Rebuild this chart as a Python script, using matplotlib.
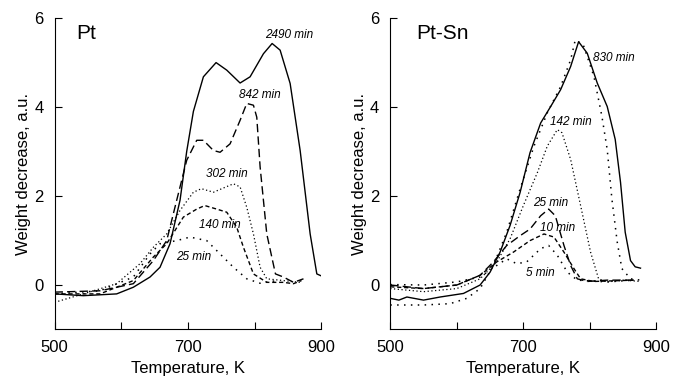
import numpy as np
import matplotlib
matplotlib.use("Agg")
import matplotlib.pyplot as plt

plt.rcParams['font.family'] = ['Liberation Sans', 'DejaVu Sans']

# ---- Pt panel (temperature K, weight decrease a.u.) ----
pt_2490_T = [500, 543, 593, 618, 643, 658, 673, 688, 698, 708, 723, 742, 758, 778, 793, 813, 826, 838, 853, 868, 883, 893, 899]
pt_2490_w = [-0.21, -0.25, -0.21, -0.06, 0.17, 0.39, 0.92, 1.9, 3.0, 3.9, 4.68, 5.0, 4.83, 4.54, 4.68, 5.2, 5.43, 5.28, 4.53, 3.02, 1.14, 0.24, 0.2]
pt_842_T = [500, 568, 618, 648, 668, 683, 698, 713, 723, 738, 748, 763, 778, 788, 798, 803, 808, 818, 831, 843, 858, 873]
pt_842_w = [-0.17, -0.14, 0.02, 0.54, 0.99, 1.9, 2.8, 3.25, 3.25, 3.02, 2.98, 3.17, 3.7, 4.08, 4.04, 3.77, 2.65, 1.14, 0.24, 0.17, 0.05, 0.13]
pt_302_T = [500, 543, 593, 628, 648, 668, 688, 708, 720, 738, 768, 778, 788, 798, 808, 818, 843, 868]
pt_302_w = [-0.4, -0.21, 0.02, 0.47, 0.84, 1.14, 1.67, 2.08, 2.16, 2.08, 2.27, 2.2, 1.74, 1.14, 0.39, 0.13, 0.09, 0.05]
pt_140_T = [500, 568, 618, 648, 668, 693, 713, 725, 743, 758, 773, 783, 798, 818, 843, 858, 870]
pt_140_w = [-0.21, -0.21, 0.09, 0.62, 0.92, 1.52, 1.7, 1.78, 1.7, 1.63, 1.29, 0.84, 0.24, 0.05, 0.05, 0.02, 0.09]
pt_25_T = [500, 568, 618, 643, 658, 683, 703, 728, 748, 768, 788, 808, 833]
pt_25_w = [-0.21, -0.14, 0.17, 0.69, 0.92, 0.99, 1.07, 0.99, 0.69, 0.39, 0.13, 0.03, 0.09]

# ---- Pt-Sn panel ----
sn_830_T = [500, 513, 525, 550, 575, 610, 635, 650, 665, 680, 695, 710, 726, 741, 756, 771, 783, 796, 811, 826, 838, 846, 853, 861, 868, 876]
sn_830_w = [-0.31, -0.35, -0.28, -0.35, -0.28, -0.2, -0.01, 0.28, 0.73, 1.33, 2.07, 2.97, 3.64, 4.01, 4.39, 4.91, 5.47, 5.21, 4.54, 4.01, 3.27, 2.3, 1.18, 0.54, 0.4, 0.37]
sn_dot_T = [500, 550, 590, 615, 635, 655, 675, 695, 716, 736, 756, 771, 778, 790, 806, 818, 826, 833, 841, 848, 861, 876]
sn_dot_w = [-0.46, -0.46, -0.43, -0.31, -0.09, 0.43, 1.18, 2.15, 3.12, 3.87, 4.46, 5.06, 5.51, 5.4, 4.69, 3.79, 3.04, 1.93, 0.96, 0.36, 0.13, 0.1]
sn_142_T = [500, 550, 600, 635, 660, 680, 700, 721, 736, 751, 758, 771, 786, 801, 813, 826, 851, 876]
sn_142_w = [-0.09, -0.16, -0.09, 0.13, 0.51, 1.03, 1.78, 2.52, 3.12, 3.49, 3.42, 2.82, 1.78, 0.73, 0.13, 0.06, 0.1, 0.07]
sn_25_T = [500, 550, 600, 635, 655, 675, 695, 710, 726, 738, 748, 761, 771, 781, 796, 826, 866]
sn_25_w = [-0.01, -0.09, -0.01, 0.21, 0.51, 0.88, 1.1, 1.25, 1.55, 1.7, 1.55, 0.88, 0.43, 0.13, 0.07, 0.1, 0.1]
sn_10_T = [500, 550, 600, 635, 660, 685, 710, 731, 746, 761, 776, 786, 806, 866]
sn_10_w = [-0.05, -0.09, -0.01, 0.21, 0.51, 0.73, 0.99, 1.14, 1.07, 0.73, 0.36, 0.13, 0.07, 0.1]
sn_5_T = [500, 550, 600, 635, 660, 675, 690, 705, 726, 738, 751, 766, 781, 826, 866]
sn_5_w = [0, -0.01, 0.06, 0.17, 0.43, 0.58, 0.47, 0.51, 0.81, 0.88, 0.66, 0.28, 0.1, 0.06, 0.1]

dot = (0, (1, 2))
sparse_dot = (0, (1, 3.5))
dash = (0, (6, 3))
short_dash = (0, (3, 2))

fig = plt.figure(figsize=(6.74, 3.79), dpi=100)
ax1 = fig.add_axes([0.081, 0.132, 0.396, 0.82])
ax2 = fig.add_axes([0.579, 0.132, 0.395, 0.82])

ax1.plot(pt_2490_T, pt_2490_w, color='black', lw=1.0, ls='-')
ax1.plot(pt_842_T, pt_842_w, color='black', lw=1.0, ls=dash)
ax1.plot(pt_302_T, pt_302_w, color='black', lw=0.9, ls=dot)
ax1.plot(pt_140_T, pt_140_w, color='black', lw=1.0, ls=short_dash)
ax1.plot(pt_25_T, pt_25_w, color='black', lw=1.1, ls=sparse_dot)

ax2.plot(sn_830_T, sn_830_w, color='black', lw=1.0, ls='-')
ax2.plot(sn_dot_T, sn_dot_w, color='black', lw=1.1, ls=sparse_dot)
ax2.plot(sn_142_T, sn_142_w, color='black', lw=0.9, ls=dot)
ax2.plot(sn_25_T, sn_25_w, color='black', lw=1.0, ls=dash)
ax2.plot(sn_10_T, sn_10_w, color='black', lw=1.0, ls=short_dash)
ax2.plot(sn_5_T, sn_5_w, color='black', lw=1.1, ls=sparse_dot)

lab_kw = dict(fontsize=8.5, style='italic', ha='center', va='center')
for t, x, y in [('2490 min', 852, 5.62), ('842 min', 808, 4.26), ('302 min', 758, 2.48),
                ('140 min', 748, 1.35), ('25 min', 708, 0.63)]:
    ax1.text(x, y, t, **lab_kw)
for t, x, y in [('830 min', 836, 5.1), ('142 min', 771, 3.66), ('25 min', 741, 1.84),
                ('10 min', 751, 1.27), ('5 min', 726, 0.25)]:
    ax2.text(x, y, t, **lab_kw)

ax1.text(548, 5.65, 'Pt', fontsize=15, ha='center', va='center')
ax2.text(578, 5.66, 'Pt-Sn', fontsize=15, ha='center', va='center')

for ax in (ax1, ax2):
    ax.set_xlim(500, 900)
    ax.set_ylim(-1, 6)
    ax.set_xticks([500, 600, 700, 800, 900])
    ax.set_xticklabels(['500', '', '700', '', '900'])
    ax.set_yticks([0, 2, 4, 6])
    ax.tick_params(direction='in', length=5, width=0.8, labelsize=12, pad=8)
    ax.spines['top'].set_visible(False)
    ax.spines['right'].set_visible(False)
    ax.set_xlabel('Temperature, K', fontsize=12, labelpad=4)
    ax.set_ylabel('Weight decrease, a.u.', fontsize=12, labelpad=2)

fig.savefig('out.png', dpi=100)
